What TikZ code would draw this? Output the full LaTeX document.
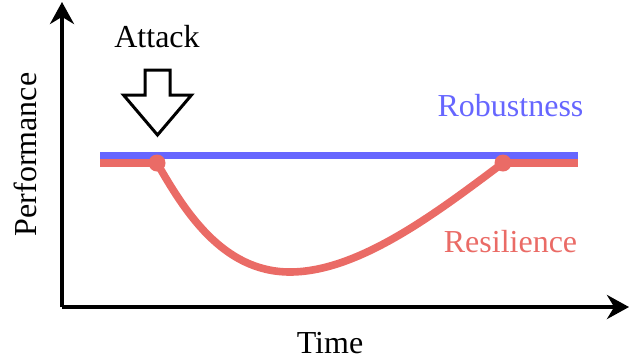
\documentclass[tikz,border=0pt]{standalone}
\usepackage{fontspec}
\setmainfont{Liberation Serif}
\newfontfamily\serifface{Liberation Serif}
\usepackage{xcolor}
\usetikzlibrary{positioning, arrows.meta, calc}

\definecolor{robustblue}{HTML}{6666FF}
\definecolor{resilred}{HTML}{EA6B66}

\tikzset{
    axis/.style={-{Stealth[length=11pt, width=12pt]}, line width=2pt},
    label/.style={font=\serifface\fontsize{16}{19}\selectfont, inner sep=0pt},
    robust/.style={line width=3.5pt, color=robustblue},
    resil/.style={line width=3.8pt, color=resilred},
}

\begin{document}
\begin{tikzpicture}[x=0.5pt, y=-0.5pt]

    \useasboundingbox (0,0) rectangle (630,360);

    % =========================================================================
    % AXES: Performance vs Time
    % =========================================================================
    \coordinate (origin) at (62, 307);
    \coordinate (y_top) at (62, 2);
    \coordinate (x_end) at (629, 307);

    \draw[axis] (origin) -- (y_top);
    \draw[axis] (origin) -- (x_end);

    \node[label, rotate=90, anchor=base] (perf) at (36.5, 154.5) {Performance};
    \node[label, anchor=base] (time) at (330, 353) {Time};

    % =========================================================================
    % ATTACK ARROW
    % =========================================================================
    \node[label, anchor=base] (attack) at (157, 47.5) {Attack};

    \draw[line width=1.5pt, fill=white]
        (145, 70) -- (170, 70) -- (170, 95) -- (191.5, 95)
        -- (157.5, 135) -- (123.5, 95) -- (145, 95) -- cycle;

    % =========================================================================
    % ROBUSTNESS: flat line
    % =========================================================================
    \coordinate (rob_start) at (100, 155.5);
    \coordinate (rob_end) at (578, 155.5);
    \draw[robust] (rob_start) -- (rob_end);

    \node[label, anchor=base, text=robustblue] (robustness) at (510.5, 116) {Robustness};

    % =========================================================================
    % RESILIENCE: drop and recovery
    % =========================================================================
    \coordinate (res_start) at (100, 163);
    \coordinate (hit) at (157, 163);
    \coordinate (low) at (290, 272);
    \coordinate (back) at (503, 163);
    \coordinate (res_end) at (578, 163);

    \draw[resil] (res_start) -- (hit);
    \draw[resil] (back) -- (res_end);
    \draw[resil, line cap=round] (hit) .. controls (184, 210) and (222, 272) .. (low)
        .. controls (360, 272) and (440, 210) .. (back);

    \fill[resilred] (hit) circle (8.5);
    \fill[resilred] (back) circle (8.5);

    \node[label, anchor=base, text=resilred] (resilience) at (510.5, 252) {Resilience};

\end{tikzpicture}
\end{document}
